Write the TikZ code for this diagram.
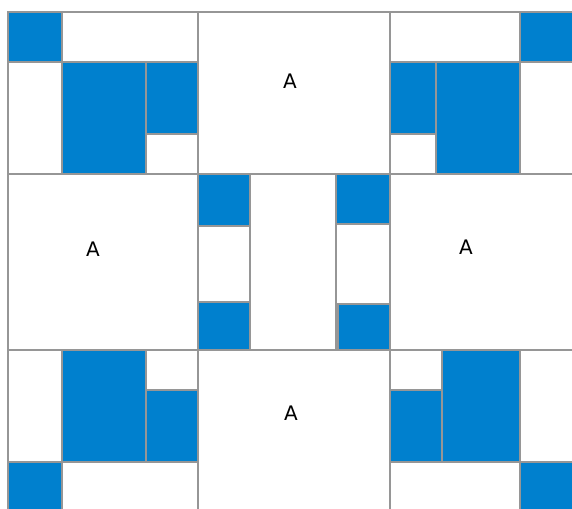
\documentclass[tikz,border=0pt]{standalone}
\usepackage{fontspec}
\setsansfont{DejaVu Sans}
\usepackage{xcolor}
\usepackage{tikz}
\usetikzlibrary{positioning}
\definecolor{tileblue}{RGB}{0,128,206}
\definecolor{tilegrey}{RGB}{150,150,150}

\begin{document}
\begin{tikzpicture}[x=1pt,y=-1pt,
                    every node/.style={font=\sffamily\fontsize{20}{24}\selectfont},
                    cell/.style={draw=tilegrey,line width=1.2pt,fill=white},
                    blue cell/.style={cell,fill=tileblue}]
  \useasboundingbox (0,0) rectangle (572,508);
  \clip (0,0) rectangle (572,508);

  % white tiles
  \foreach \xa/\ya/\xb/\yb in {62/12/198/62, 8/62/62/174, 146/134/198/174,
                               198/12/390/174,
                               390/12/520/62, 390/134/436/174, 520/62/575/174,
                               8/174/198/350, 198/226/250/302, 250/174/336/350,
                               336/224/390/304, 390/174/575/350,
                               8/350/62/462, 146/350/198/390, 62/462/198/511,
                               198/350/390/511,
                               390/350/442/390, 520/350/575/462, 390/462/520/511}
    \draw[cell] (\xa,\ya) rectangle (\xb,\yb);

  % blue tiles
  \foreach \xa/\ya/\xb/\yb in {8/12/62/62, 62/62/146/174, 146/62/198/134,
                               520/12/575/62, 390/62/436/134, 436/62/520/174,
                               198/174/250/226, 198/302/250/350,
                               336/174/390/224, 338/304/390/350,
                               62/350/146/462, 146/390/198/462, 8/462/62/511,
                               442/350/520/462, 390/390/442/462, 520/462/575/511}
    \draw[blue cell] (\xa,\ya) rectangle (\xb,\yb);

  \node (aTop)    at (290,81)  {A};
  \node (aLeft)   at (93,249)  {A};
  \node (aRight)  at (466,247) {A};
  \node (aBottom) at (291,413) {A};
\end{tikzpicture}
\end{document}
